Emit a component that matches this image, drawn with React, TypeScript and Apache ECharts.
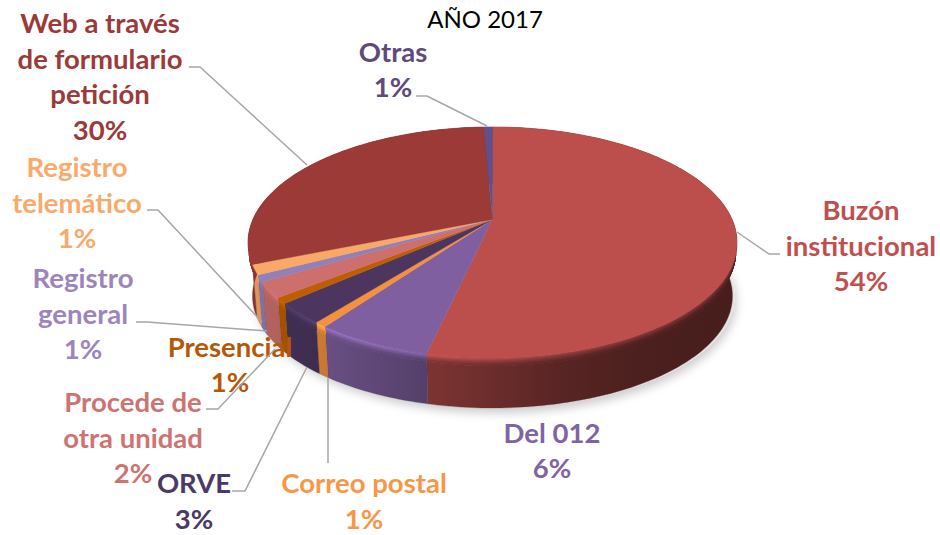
import React, { useEffect, useRef } from "react";
import * as echarts from "echarts";

const categories = ["Buzón institucional", "Del 012", "Correo postal", "ORVE", "Presencial", "Procede de otra unidad", "Registro general", "Registro telemático", "Web a través de formulario petición", "Otras"];
const labelLines = [
  ["Buzón", "institucional"],
  ["Del 012"],
  ["Correo postal"],
  ["ORVE"],
  ["Presencial"],
  ["Procede de", "otra unidad"],
  ["Registro", "general"],
  ["Registro", "telemático"],
  ["Web a través", "de formulario", "petición"],
  ["Otras"],
];
const values = [53.5, 6.4, 0.7, 2.9, 0.8, 2.2, 0.9, 1.4, 30.4, 0.7];

const topColors = ["#BC4F4C", "#7F5F9F", "#F4913E", "#4C3660", "#BD5E00", "#CC6F6D", "#9280B8", "#F9A868", "#9B3A36", "#63508A"];
const textColors = ["#C0504D", "#8064A2", "#F79646", "#4A3A66", "#B65708", "#CD7371", "#9C84BC", "#FAA96B", "#9B3A38", "#604A7B"];

const labelAnchors = [[861, 245], [552, 450], [364, 500.5], [194, 500.5], [230, 364], [133, 437], [83, 313], [77, 202], [100, 76], [393, 69]];
const leaders: (number[][] | null)[] = [
  [[737, 232], [769, 254], [780, 254]],
  null,
  [[328, 378], [328, 463]],
  [[307, 367], [245, 491], [232, 491]],
  null,
  [[275, 349], [218, 409], [206, 409]],
  [[267, 331], [147, 322], [136, 322]],
  [[262, 322], [158, 210], [147, 210]],
  [[307, 165], [200, 67], [189, 67]],
  [[487, 126], [427, 96], [416, 96]],
];

const TOP = { cx: 492.5, cy: 242.5, rx: 244.5, ry: 115.5 };
const BASE = { cx: 492.5, cy: 296, rx: 240, ry: 112 };
const K = 0.2;
const FONT = "Lato, Carlito, Calibri, sans-serif";
const LABEL_SIZE = 27.5;
const LINE_STEP = 35.5;

const total = values.reduce((a, b) => a + b, 0);
const starts = values.map((_, i) => values.slice(0, i).reduce((a, b) => a + b, 0) / total);

function rimPoint(frac: number, e: typeof TOP) {
  const th = frac * Math.PI * 2;
  const x = Math.sin(th);
  const y = -Math.cos(th);
  const d = 1 - K * y;
  return [e.cx + (e.rx * x * Math.sqrt(1 - K * K)) / d, e.cy + (e.ry * (y - K)) / d];
}
function arc(i: number) {
  const f0 = starts[i];
  const f1 = f0 + values[i] / total;
  const n = Math.max(3, Math.ceil((f1 - f0) * 300));
  const out: number[] = [];
  for (let s = 0; s <= n; s++) out.push(f0 + ((f1 - f0) * s) / n);
  return out;
}
function stripPoints(fr: number[], t0: number, t1: number) {
  const at = (f: number, t: number) => {
    const a = rimPoint(f, TOP);
    const b = rimPoint(f, BASE);
    return [a[0] + (b[0] - a[0]) * t, a[1] + (b[1] - a[1]) * t];
  };
  return [...fr.map((f) => at(f, t0)), ...[...fr].reverse().map((f) => at(f, t1))];
}
function scaleColor(hex: string, f: number) {
  const n = parseInt(hex.slice(1), 16);
  const c = [(n >> 16) & 255, (n >> 8) & 255, n & 255].map((v) => Math.round(Math.min(255, v * f)));
  return `rgb(${c[0]},${c[1]},${c[2]})`;
}
const shadeX = [248, 330, 430, 560, 640, 737];
const wallF = [0.9, 0.82, 0.66, 0.47, 0.4, 0.38];
const bevelF = [1.0, 1.28, 1.12, 0.85, 0.75, 0.7];
function wallFill(hex: string, mixBevel: number) {
  return new echarts.graphic.LinearGradient(
    shadeX[0], 0, shadeX[shadeX.length - 1], 0,
    shadeX.map((x, j) => ({
      offset: (x - shadeX[0]) / (shadeX[shadeX.length - 1] - shadeX[0]),
      color: scaleColor(hex, wallF[j] + (bevelF[j] - wallF[j]) * mixBevel),
    })),
    true
  );
}

export default function App() {
  const ref = useRef<HTMLDivElement>(null);
  useEffect(() => {
    const chart = echarts.init(ref.current!, null, { renderer: "svg" });
    const BANDS = 7;
    const BAND_T = 0.022;
    chart.setOption({
      animation: false,
      backgroundColor: "#ffffff",
      title: {
        text: "AÑO 2017",
        left: 480,
        top: 1,
        textAlign: "center",
        textStyle: { fontFamily: FONT, fontWeight: "normal", fontSize: 24, color: "#000000" },
      },
      series: [
        {
          type: "custom",
          coordinateSystem: "none",
          silent: true,
          clip: false,
          data: [[1]],
          renderItem: () => ({
            type: "ellipse",
            shape: { cx: BASE.cx + 2, cy: BASE.cy, rx: BASE.rx, ry: BASE.ry },
            style: { fill: "#e2e2e2", shadowBlur: 10, shadowColor: "rgba(0,0,0,0.2)", shadowOffsetY: 5, shadowOffsetX: 2 },
          }),
        },
        {
          type: "custom",
          coordinateSystem: "none",
          silent: true,
          clip: false,
          data: values.map((v) => [v]),
          renderItem: (p: any) => {
            const i = p.dataIndex;
            const fr = arc(i);
            const children: any[] = [
              { type: "polygon", shape: { points: stripPoints(fr, 0, 1) }, style: { fill: wallFill(topColors[i], 0), stroke: scaleColor(topColors[i], 0.6), lineWidth: 0.3 } },
            ];
            for (let b = 0; b < BANDS; b++) {
              const mix = Math.pow(1 - (b + 0.5) / BANDS, 1.4);
              children.push({
                type: "polygon",
                shape: { points: stripPoints(fr, b * BAND_T, BANDS * BAND_T) },
                style: { fill: wallFill(topColors[i], mix) },
              });
            }
            return { type: "group", children };
          },
        },
        {
          type: "custom",
          coordinateSystem: "none",
          silent: true,
          clip: false,
          data: values.map((v) => [v]),
          renderItem: (p: any) => {
            const i = p.dataIndex;
            const apex = [TOP.cx, TOP.cy - K * TOP.ry];
            const pts = [apex, ...arc(i).map((f) => rimPoint(f, TOP))];
            return {
              type: "polygon",
              shape: { points: pts },
              style: { fill: topColors[i], stroke: topColors[i], lineWidth: 0.4 },
            };
          },
        },
        {
          type: "custom",
          coordinateSystem: "none",
          silent: true,
          clip: false,
          data: values.map((v) => [v]),
          renderItem: (p: any, api: any) => {
            const i = p.dataIndex;
            const pct = Math.round((api.value(0) / total) * 100);
            const children: any[] = [];
            if (leaders[i]) {
              children.push({
                type: "polyline",
                shape: { points: leaders[i] },
                style: { stroke: "#A6A6A6", lineWidth: 1.5, fill: "none" },
              });
            }
            const lines = [...labelLines[i], `${pct}%`];
            lines.forEach((line, j) => {
              children.push({
                type: "text",
                style: {
                  text: line,
                  x: labelAnchors[i][0],
                  y: labelAnchors[i][1] + (j - (lines.length - 1) / 2) * LINE_STEP,
                  align: "center",
                  verticalAlign: "middle",
                  fontFamily: FONT,
                  fontWeight: "bold",
                  fontSize: LABEL_SIZE,
                  lineHeight: 26,
                  fill: textColors[i],
                },
              });
            });
            return { type: "group", children };
          },
        },
      ],
    });
    return () => chart.dispose();
  }, []);
  return <div ref={ref} style={{ position: "absolute", left: 0, top: 0, width: 940, height: 535 }} aria-label={categories.join(", ")} />;
}
